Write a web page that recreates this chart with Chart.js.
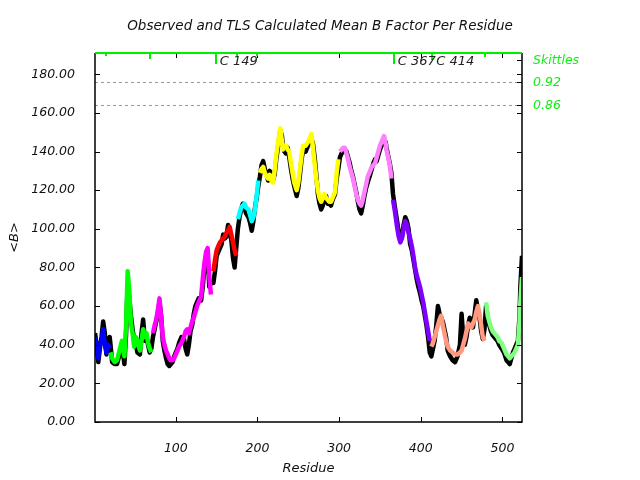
<!DOCTYPE html>
<html>
<head>
<meta charset="utf-8">
<script src="https://cdn.jsdelivr.net/npm/chart.js@4/dist/chart.umd.min.js"></script>
<style>
  html, body { margin: 0; padding: 0; background: #fff; }
</style>
</head>
<body>
<canvas id="bChart" width="640" height="480"></canvas>
<script>
// TLS segment colours, one per segment
const segColors = ['#0000ff', '#00ff00', '#ff00ff', '#ff0000', '#00ffff', '#ffff00', '#ff80ff', '#8000ff', '#ff9980', '#80ff80'];

// residue numbers of each segment
const segResidues = [
  [1, 3, 5, 7, 9, 11, 13, 15, 17, 19],
  [20, 22, 25, 28, 31, 34, 37, 39, 41, 43, 45, 47, 49, 51, 53, 56, 58, 60, 62, 64, 66, 68, 70],
  [72, 74, 76, 78, 80, 82, 84, 86, 88, 90, 92, 94, 96, 98, 100, 102, 104, 107, 110, 112, 114, 116, 118, 120, 122, 124, 126, 128, 131, 133, 135, 137, 139, 141, 143],
  [146, 148, 150, 152, 154, 156, 158, 160, 162, 164, 166, 168, 170, 172, 174],
  [176, 178, 180, 182, 184, 186, 189, 191, 193, 195, 197, 199, 201],
  [203, 205, 207, 209, 211, 213, 215, 217, 219, 221, 223, 225, 227, 228, 230, 231, 233, 235, 237, 239, 241, 243, 245, 248, 250, 252, 254, 256, 259, 262, 264, 266, 268, 270, 272, 274, 276, 278, 280, 282, 284, 286, 288, 290, 292, 295, 297, 299],
  [301, 303, 305, 307, 309, 311, 313, 315, 317, 319, 321, 323, 325, 327, 329, 331, 333, 335, 338, 340, 342, 344, 346, 348, 350, 352, 355, 357, 358, 360, 362, 364],
  [366, 368, 371, 373, 375, 377, 379, 381, 383, 385, 387, 389, 391, 393, 395, 397, 399, 401, 403, 405, 407, 409, 411],
  [413, 415, 417, 419, 421, 423, 425, 427, 429, 431, 433, 436, 439, 442, 445, 448, 450, 452, 454, 456, 458, 460, 462, 464, 466, 468, 470, 472, 474, 476, 478],
  [480, 482, 484, 486, 488, 490, 492, 494, 496, 499, 502, 505, 507, 509, 511, 513, 515, 517, 519, 521, 522, 524]
];

// TLS calculated mean B
const tlsB = [
  [44, 38, 33, 40, 42, 48, 40, 36, 40, 38],
  [36, 33, 31, 32, 37, 42, 34, 49, 78, 68, 51, 46, 39, 44, 42, 37, 42, 48, 44, 46, 41, 38, 36],
  [46, 50, 53, 58, 64, 54, 44, 40, 37, 35, 33, 32, 32, 33, 35, 37, 39, 41, 44, 47, 48, 46, 49, 52, 54, 57, 60, 62, 65, 74, 82, 88, 90, 75, 66],
  [78, 84, 89, 91, 93, 94, 95, 96, 98, 99, 101, 97, 93, 89, 86],
  [105, 108, 111, 112, 113, 111, 110, 107, 104, 106, 110, 117, 125],
  [129, 131, 132, 129, 127, 126, 128, 125, 124, 130, 138, 144, 150, 152, 145, 141, 143, 143, 141, 140, 134, 129, 124, 120, 124, 131, 138, 143, 143, 145, 147, 149, 142, 134, 126, 120, 116, 114, 116, 118, 116, 115, 114, 114, 116, 119, 129, 136],
  [140, 141, 142, 142, 139, 136, 132, 129, 126, 122, 118, 115, 113, 112, 115, 119, 123, 127, 130, 132, 133, 134, 137, 140, 143, 145, 148, 144, 141, 137, 133, 126],
  [115, 110, 101, 96, 93, 95, 100, 104, 102, 98, 95, 91, 86, 80, 76, 73, 70, 66, 62, 57, 52, 47, 42],
  [39, 41, 44, 47, 50, 53, 55, 50, 46, 42, 39, 37, 36, 35, 35, 36, 37, 40, 43, 47, 51, 50, 49, 51, 53, 57, 60, 56, 50, 44, 42],
  [62, 55, 52, 49, 47, 46, 45, 44, 42, 41, 38, 35, 34, 33, 34, 35, 36, 38, 40, 52, 62, 75]
];

// observed mean B at the same residues
const obsB = [
  [46, 40, 31, 38, 44, 52, 46, 35, 42, 44],
  [40, 31, 30, 30, 35, 40, 30, 45, 72, 64, 55, 48, 42, 40, 36, 35, 46, 53, 42, 44, 40, 36, 38],
  [44, 48, 52, 56, 62, 55, 42, 37, 33, 30, 29, 30, 31, 34, 36, 38, 41, 44, 43, 38, 35, 40, 47, 50, 56, 60, 62, 64, 63, 70, 80, 84, 86, 70, 72],
  [72, 78, 86, 88, 90, 92, 97, 95, 96, 102, 98, 94, 85, 80, 90],
  [100, 106, 110, 113, 111, 108, 106, 103, 99, 104, 111, 116, 122],
  [127, 133, 135, 131, 128, 125, 130, 127, 125, 128, 136, 142, 148, 151, 148, 143, 140, 139, 142, 137, 131, 126, 122, 117, 121, 128, 136, 141, 140, 143, 146, 147, 144, 137, 128, 118, 113, 110, 112, 116, 117, 113, 113, 112, 115, 118, 126, 131],
  [137, 139, 140, 141, 140, 137, 134, 130, 127, 123, 119, 114, 110, 108, 112, 117, 121, 124, 128, 131, 134, 136, 135, 138, 141, 143, 146, 145, 142, 138, 134, 129],
  [118, 112, 104, 98, 97, 96, 102, 106, 104, 100, 92, 89, 84, 79, 74, 70, 67, 63, 60, 55, 50, 44, 36],
  [34, 38, 42, 50, 60, 56, 54, 52, 48, 44, 37, 34, 32, 31, 34, 40, 56, 44, 40, 44, 50, 54, 52, 49, 56, 63, 58, 54, 47, 43, 48],
  [60, 53, 50, 47, 45, 44, 43, 42, 40, 38, 36, 32, 31, 30, 33, 36, 38, 40, 42, 55, 70, 86]
];

const xTicks = [100, 200, 300, 400, 500];
const yTicks = [0, 20, 40, 60, 80, 100, 120, 140, 160, 180];

// markers along the top edge (residue, tick length, label)
const markerResidues = [14, 68, 149, 175, 200, 367, 414, 479];
const markerLengths = [2, 5, 10, 3, 2, 10, 6, 3];
const markerLabels = ['', '', 'C 149', '', '', 'C 367', 'C 414', ''];

// skittles labels on the right
const skittleLabels = ['Skittles', '0.92', '0.86'];
const skittleValues = [187.2, 175.8, 163.9];
const dottedValues = [175.8, 163.9];

const titleText = 'Observed and TLS Calculated Mean B Factor Per Residue';
const fontFam = "'DejaVu Sans', sans-serif";

const datasets = [];
// observed line as one continuous black trace, drawn underneath
const obsPoints = [];
segResidues.forEach((res, s) => {
  res.forEach((r, i) => obsPoints.push({ x: r, y: obsB[s][i] }));
});
datasets.push({
  data: obsPoints,
  borderColor: '#000000',
  borderWidth: 4.5,
  borderJoinStyle: 'round',
  pointRadius: 0,
  order: 2
});
segResidues.forEach((res, s) => {
  datasets.push({
    data: res.map((r, i) => ({ x: r, y: tlsB[s][i] })),
    borderColor: segColors[s],
    borderWidth: 4.5,
    borderJoinStyle: 'round',
    pointRadius: 0,
    order: 1
  });
});

// frame, inward ticks, dotted lines, top markers, title and right labels
const decorations = {
  id: 'decorations',
  beforeDatasetsDraw(chart) {
    const ctx = chart.ctx;
    const a = chart.chartArea;
    const y = chart.scales.y;
    ctx.save();
    ctx.strokeStyle = '#999999';
    ctx.lineWidth = 1;
    ctx.setLineDash([3, 3]);
    dottedValues.forEach(v => {
      const py = Math.round(y.getPixelForValue(v)) + 0.5;
      ctx.beginPath();
      ctx.moveTo(a.left, py);
      ctx.lineTo(a.right, py);
      ctx.stroke();
    });
    ctx.restore();
  },
  afterDraw(chart) {
    const ctx = chart.ctx;
    const a = chart.chartArea;
    const x = chart.scales.x;
    const y = chart.scales.y;
    ctx.save();

    // title, sized to the reference width
    ctx.fillStyle = '#111';
    ctx.textAlign = 'center';
    ctx.textBaseline = 'middle';
    ctx.font = 'italic 13px ' + fontFam;
    const w = ctx.measureText(titleText).width;
    ctx.font = 'italic ' + (13 * 386 / w).toFixed(2) + 'px ' + fontFam;
    ctx.fillText(titleText, 320, 26);

    ctx.strokeStyle = '#000';
    ctx.lineWidth = 1.5;
    ctx.beginPath();
    ctx.moveTo(a.left, a.top);
    ctx.lineTo(a.left, a.bottom);
    ctx.lineTo(a.right, a.bottom);
    ctx.lineTo(a.right, a.top);
    ctx.stroke();

    ctx.lineWidth = 1;
    xTicks.forEach(v => {
      const px = Math.round(x.getPixelForValue(v)) + 0.5;
      ctx.beginPath();
      ctx.moveTo(px, a.bottom);
      ctx.lineTo(px, a.bottom - 5);
      ctx.moveTo(px, a.top);
      ctx.lineTo(px, a.top + 5);
      ctx.stroke();
    });
    yTicks.forEach(v => {
      const py = Math.round(y.getPixelForValue(v)) + 0.5;
      ctx.beginPath();
      ctx.moveTo(a.left, py);
      ctx.lineTo(a.left + 5, py);
      ctx.moveTo(a.right, py);
      ctx.lineTo(a.right - 5, py);
      ctx.stroke();
    });
    skittleValues.forEach(v => {
      const py = Math.round(y.getPixelForValue(v)) + 0.5;
      ctx.beginPath();
      ctx.moveTo(a.right, py);
      ctx.lineTo(a.right - 5, py);
      ctx.stroke();
    });

    // green line along the top with its markers
    ctx.strokeStyle = '#00ee00';
    ctx.lineWidth = 2;
    ctx.beginPath();
    ctx.moveTo(a.left, a.top);
    ctx.lineTo(a.right, a.top);
    ctx.stroke();
    markerResidues.forEach((r, i) => {
      const px = Math.round(x.getPixelForValue(r));
      ctx.beginPath();
      ctx.moveTo(px, a.top);
      ctx.lineTo(px, a.top + markerLengths[i] + 1);
      ctx.stroke();
    });

    ctx.fillStyle = '#222';
    ctx.font = 'italic 13px ' + fontFam;
    ctx.textBaseline = 'middle';
    ctx.textAlign = 'left';
    markerResidues.forEach((r, i) => {
      if (!markerLabels[i]) return;
      ctx.fillText(markerLabels[i], x.getPixelForValue(r) + 4, a.top + 9);
    });

    ctx.fillStyle = '#11ee11';
    ctx.font = 'italic 12.5px ' + fontFam;
    skittleLabels.forEach((t, i) => {
      ctx.fillText(t, a.right + 11, y.getPixelForValue(skittleValues[i]));
    });
    ctx.restore();
  }
};

new Chart(document.getElementById('bChart').getContext('2d'), {
  type: 'line',
  data: { datasets: datasets },
  options: {
    responsive: false,
    animation: false,
    layout: { padding: { top: 53, right: 118, left: 0, bottom: 0 } },
    plugins: {
      legend: { display: false },
      tooltip: { enabled: false },
      title: { display: false }
    },
    scales: {
      x: {
        type: 'linear',
        min: 1,
        max: 524,
        grid: { display: false },
        border: { display: false },
        afterBuildTicks: scale => { scale.ticks = xTicks.map(v => ({ value: v })); },
        afterFit: scale => { scale.height = 58; },
        ticks: {
          padding: 11,
          color: '#111',
          maxRotation: 0,
          font: { family: fontFam, size: 12.5, style: 'italic' }
        },
        title: {
          display: true,
          text: 'Residue',
          color: '#111',
          padding: 4,
          font: { family: fontFam, size: 13, style: 'italic' }
        }
      },
      y: {
        min: 0,
        max: 191,
        grid: { display: false },
        border: { display: false },
        afterBuildTicks: scale => { scale.ticks = yTicks.map(v => ({ value: v })); },
        afterFit: scale => { scale.width = 95; },
        ticks: {
          padding: 12,
          color: '#111',
          font: { family: fontFam, size: 12.5, style: 'italic' },
          callback: v => v.toFixed(2)
        },
        title: {
          display: true,
          text: '<B>',
          color: '#111',
          padding: 7,
          font: { family: fontFam, size: 13, style: 'italic' }
        }
      }
    }
  },
  plugins: [decorations]
});
</script>
</body>
</html>
